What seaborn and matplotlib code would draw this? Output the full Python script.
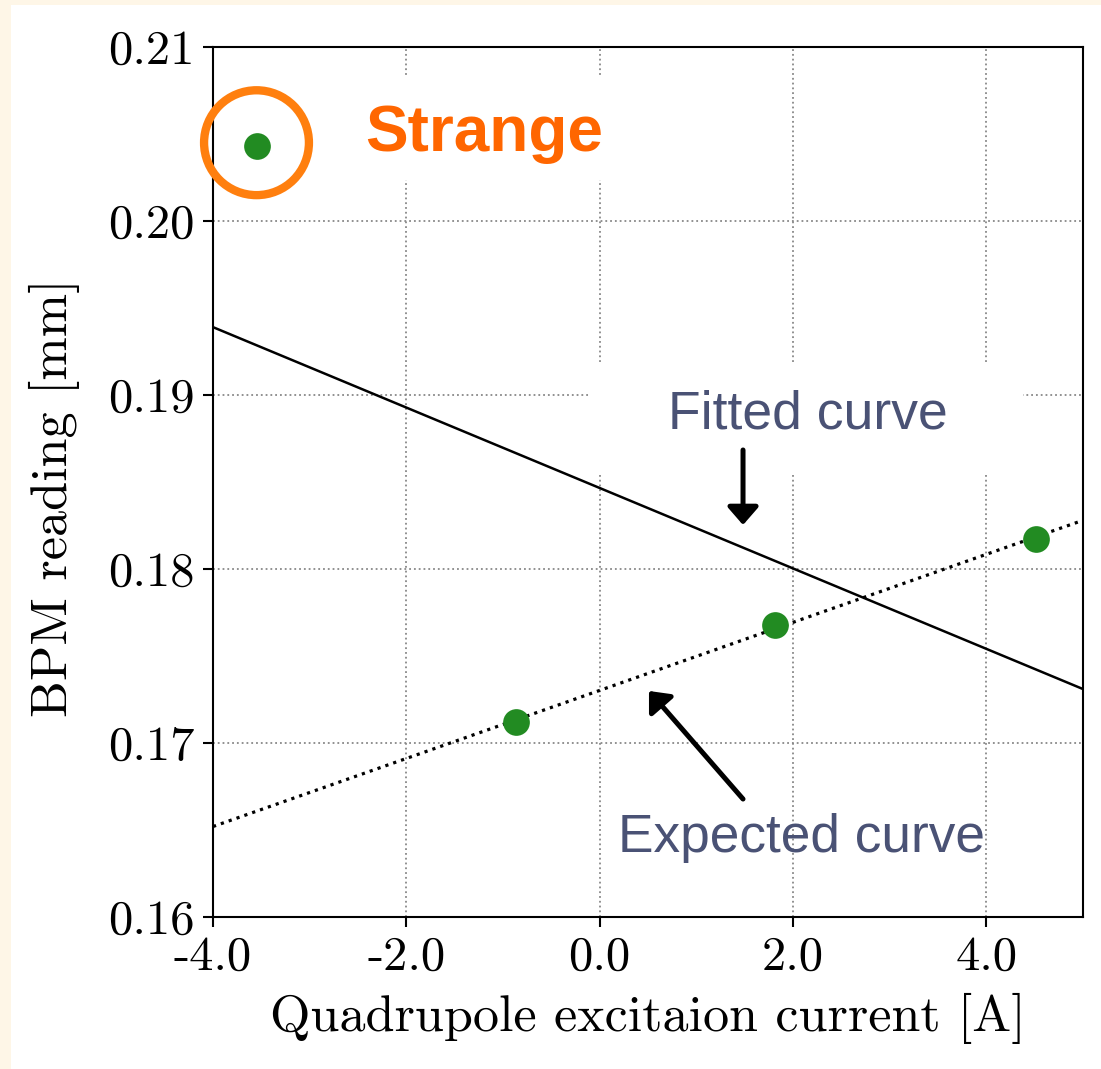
import matplotlib
matplotlib.use("Agg")
import matplotlib.pyplot as plt
import seaborn as sns
import pandas as pd
from matplotlib.patches import Rectangle
from matplotlib.ticker import FormatStrFormatter

# measured BPM readings
current = [-3.55, -0.87, 1.81, 4.51]
bpm = [0.2043, 0.1712, 0.1768, 0.1817]

# curve end points over the plotted range
curve_x = [-4.0, 5.0]
fitted_y = [0.1939, 0.1731]
expected_y = [0.1652, 0.1828]

x_ticks = [-4.0, -2.0, 0.0, 2.0, 4.0]
y_ticks = [0.16, 0.17, 0.18, 0.19, 0.20, 0.21]

points = pd.DataFrame({"current": current, "bpm": bpm})
fitted = pd.DataFrame({"current": curve_x, "bpm": fitted_y})
expected = pd.DataFrame({"current": curve_x, "bpm": expected_y})

sns.set_theme(style="ticks")
plt.rcParams["font.family"] = "cmr10"
plt.rcParams["axes.formatter.use_mathtext"] = True
plt.rcParams["axes.unicode_minus"] = False
plt.rcParams["text.color"] = "black"
plt.rcParams["axes.labelcolor"] = "black"
plt.rcParams["xtick.color"] = "black"
plt.rcParams["ytick.color"] = "black"

fig = plt.figure(figsize=(11.01, 10.69), dpi=100, facecolor="#fef6e7")
fig.patches.append(
    Rectangle((11 / 1101, 0), 1, 1064 / 1069, transform=fig.transFigure,
              facecolor="white", edgecolor="none", zorder=-10)
)
ax = fig.add_axes([213 / 1101, 1 - 917 / 1069, 870 / 1101, 870 / 1069])
ax.set_facecolor("white")

# white boxes behind the annotation text
ax.add_patch(Rectangle((-0.11, 0.18552), 4.49, 0.00638, facecolor="white",
                       edgecolor="none", zorder=1))
ax.add_patch(Rectangle((-2.8, 0.20236), 3.26, 0.00603, facecolor="white",
                       edgecolor="none", zorder=1))

sns.lineplot(data=fitted, x="current", y="bpm", color="black", lw=1.8,
             ax=ax, zorder=2)
sns.lineplot(data=expected, x="current", y="bpm", color="black", lw=2.3,
             linestyle=(0, (1, 1.6)), ax=ax, zorder=2)
sns.scatterplot(data=points, x="current", y="bpm", color="#228b22", s=370,
                linewidth=0, ax=ax, zorder=3)

# mark the odd point
ax.scatter([current[0]], [0.2045], s=5700, facecolors="none",
           edgecolors="#ff7f0e", linewidths=6.0, zorder=3, clip_on=False)
ax.text(-2.43, 0.20402, "Strange", color="#ff6600", fontsize=46,
        fontweight="bold", family="Liberation Sans", va="baseline", zorder=4)

ax.text(0.707, 0.18810, "Fitted curve", color="#4a5275", fontsize=38.5,
        family="Liberation Sans", va="baseline", zorder=4)
ax.text(0.19, 0.16374, "Expected curve", color="#4a5275", fontsize=38.3,
        family="Liberation Sans", va="baseline", zorder=4)

arrow = dict(arrowstyle="-|>,head_length=0.54,head_width=0.47",
             mutation_scale=20, lw=3.6, color="black",
             shrinkA=0, shrinkB=0)
ax.annotate("", xy=(1.483, 0.18253), xytext=(1.483, 0.18684),
            arrowprops=arrow, zorder=4)
ax.annotate("", xy=(0.51, 0.17299), xytext=(1.483, 0.16678),
            arrowprops=arrow, zorder=4)

ax.set_xlim(-4, 5)
ax.set_ylim(0.16, 0.21)
ax.set_xticks(x_ticks)
ax.set_yticks(y_ticks)
ax.xaxis.set_major_formatter(FormatStrFormatter("%.1f"))
ax.yaxis.set_major_formatter(FormatStrFormatter("%.2f"))
ax.grid(True, linestyle=":", color="#888888", lw=1.3)
ax.set_axisbelow(True)
for s in ax.spines.values():
    s.set_linewidth(1.5)
    s.set_color("black")
ax.tick_params(length=7, width=1.5, labelsize=35, color="black", pad=6)
ax.set_xlabel("Quadrupole excitaion current [A]", fontsize=37.5, labelpad=10)
ax.set_ylabel("BPM reading [mm]", fontsize=37.5)
ax.yaxis.set_label_coords(-0.153, 0.4816)

fig.savefig("out.png", dpi=100, facecolor=fig.get_facecolor())
